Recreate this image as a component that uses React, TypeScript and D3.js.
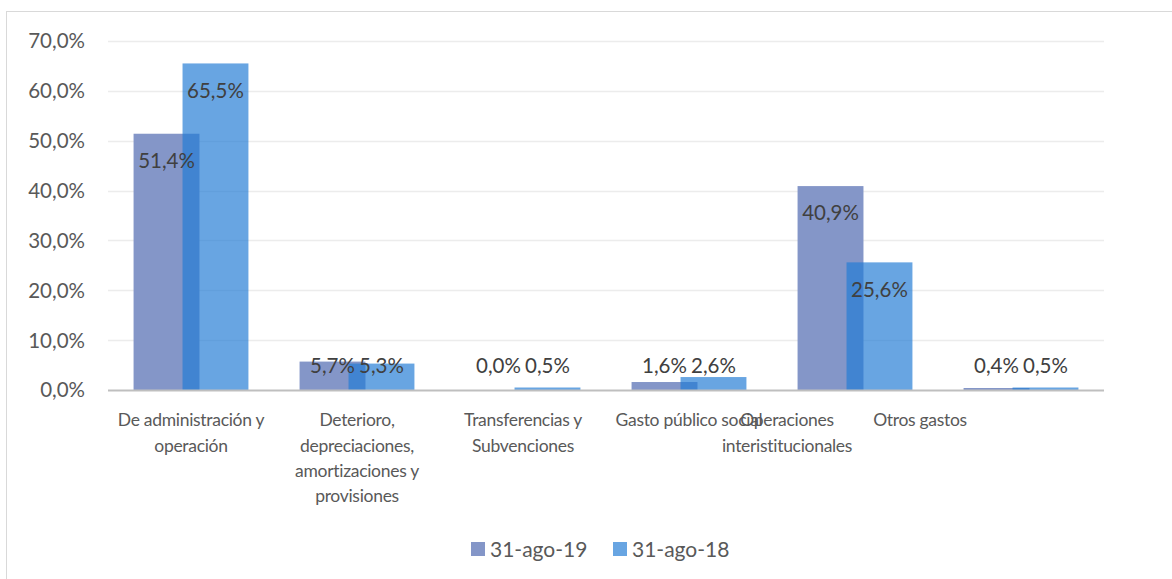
import React, { useEffect, useRef } from "react";
import * as d3 from "d3";

const categories = [
  "De administración y operación",
  "Deterioro, depreciaciones, amortizaciones y provisiones",
  "Transferencias y Subvenciones",
  "Gasto público social",
  "Operaciones interistitucionales",
  "Otros gastos",
];
const seriesNames = ["31-ago-19", "31-ago-18"];
const values2019 = [51.4, 5.7, 0.0, 1.6, 40.9, 0.4];
const values2018 = [65.5, 5.3, 0.5, 2.6, 25.6, 0.5];
const yTicks = [0, 10, 20, 30, 40, 50, 60, 70];
// Horizontal drift of the category labels as rendered in the original (px)
const labelShift = [0, 0, 0, 0, -68, -101];

const W = 1172;
const H = 579;
const FONT = "Lato, 'Liberation Sans', sans-serif";
const C1 = "#8496c8";
const C2 = "rgb(33,123,213)";
const C2_OPACITY = 0.683;

export default function App() {
  const ref = useRef<SVGSVGElement | null>(null);

  useEffect(() => {
    const svg = d3.select(ref.current);
    svg.selectAll("*").remove();

    const left = 108, right = 1104, top = 41, bottom = 390;
    const x = d3.scaleBand<string>().domain(categories).range([left, right]).padding(0);
    const y = d3.scaleLinear().domain([0, 70]).range([bottom, top]);
    const bw = x.bandwidth();
    const barW = bw * 0.397;
    const step = bw * 0.295;
    const groupW = barW + step;

    // frame
    svg.append("rect")
      .attr("x", 6.5).attr("y", 11.5)
      .attr("width", W + 10).attr("height", H + 10)
      .attr("fill", "#fff").attr("stroke", "#d9d9d9").attr("stroke-width", 1);

    // grid
    svg.append("g").selectAll("line")
      .data(yTicks.filter((t) => t > 0))
      .join("line")
      .attr("x1", left).attr("x2", right)
      .attr("y1", (d) => Math.round(y(d)) + 0.5)
      .attr("y2", (d) => Math.round(y(d)) + 0.5)
      .attr("stroke", "#ececec").attr("stroke-width", 1.3);

    // y tick labels
    svg.append("g").selectAll("text")
      .data(yTicks)
      .join("text")
      .attr("x", 85)
      .attr("y", (d) => y(d))
      .attr("dy", "0.36em")
      .attr("text-anchor", "end")
      .attr("font-family", FONT)
      .attr("font-size", 20.5)
      .attr("fill", "#595959")
      .text((d) => d.toFixed(1).replace(".", ",") + "%");

    const series = [
      { name: seriesNames[0], vals: values2019, fill: C1, op: 1, idx: 0 },
      { name: seriesNames[1], vals: values2018, fill: C2, op: C2_OPACITY, idx: 1 },
    ];

    series.forEach((s) => {
      svg.append("g").selectAll("rect")
        .data(s.vals)
        .join("rect")
        .attr("x", (d, i) => x(categories[i])! + bw / 2 - groupW / 2 + s.idx * step)
        .attr("y", (d) => y(d))
        .attr("width", barW)
        .attr("height", (d) => bottom - y(d))
        .attr("fill", s.fill)
        .attr("fill-opacity", s.op);
    });

    // axis line
    svg.append("line")
      .attr("x1", left).attr("x2", right)
      .attr("y1", bottom + 0.5).attr("y2", bottom + 0.5)
      .attr("stroke", "#bfbfbf").attr("stroke-width", 2.2);

    // data labels
    series.forEach((s) => {
      svg.append("g").selectAll("text")
        .data(s.vals)
        .join("text")
        .attr("x", (d, i) => x(categories[i])! + bw / 2 - groupW / 2 + s.idx * step + barW / 2)
        .attr("y", (d) => Math.min(y(d) + 27, bottom - 24))
        .attr("dy", "0.36em")
        .attr("text-anchor", "middle")
        .attr("font-family", FONT)
        .attr("font-size", 20.5)
        .attr("fill", "#404040")
        .text((d) => d.toFixed(1).replace(".", ",") + "%");
    });

    // category labels (wrapped)
    const catG = svg.append("g");
    const maxW = 162;
    categories.forEach((c, i) => {
      const cx = x(c)! + bw / 2 + labelShift[i];
      const words = c.split(" ");
      const lines: string[] = [];
      const t = catG.append("text")
        .attr("font-family", FONT)
        .attr("font-size", 17.5)
        .attr("letter-spacing", "-0.3px")
        .attr("fill", "#595959")
        .attr("text-anchor", "middle");
      let cur = "";
      words.forEach((w) => {
        const test = cur ? cur + " " + w : w;
        t.text(test);
        const len = (t.node() as SVGTextElement).getComputedTextLength();
        if (len > maxW && cur) {
          lines.push(cur);
          cur = w;
        } else {
          cur = test;
        }
      });
      if (cur) lines.push(cur);
      t.text(null);
      lines.forEach((ln, k) => {
        t.append("tspan")
          .attr("x", cx)
          .attr("y", 420 + k * 25.3)
          .attr("dy", "0.36em")
          .text(ln);
      });
    });

    // legend
    const legend = svg.append("g");
    const legendItems = [
      { name: seriesNames[0], fill: C1, op: 1, x: 471 },
      { name: seriesNames[1], fill: C2, op: C2_OPACITY, x: 613 },
    ];
    legendItems.forEach((l) => {
      legend.append("rect")
        .attr("x", l.x).attr("y", 542)
        .attr("width", 14).attr("height", 14)
        .attr("fill", l.fill).attr("fill-opacity", l.op);
      legend.append("text")
        .attr("x", l.x + 19).attr("y", 549)
        .attr("dy", "0.36em")
        .attr("font-family", FONT)
        .attr("font-size", 21)
        .attr("fill", "#595959")
        .text(l.name);
    });
  }, []);

  return (
    <div style={{ position: "absolute", left: 0, top: 0, width: W, height: H, background: "#fff" }}>
      <svg ref={ref} width={W} height={H} style={{ display: "block" }} />
    </div>
  );
}
